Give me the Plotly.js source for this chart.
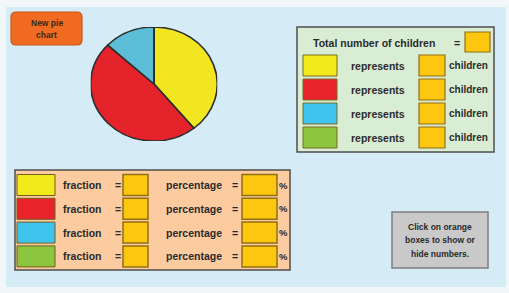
<!DOCTYPE html>
<html><head><meta charset="utf-8">
<script src="https://cdn.plot.ly/plotly-3.0.1.min.js"></script>
<style>
html,body{margin:0;padding:0;background:#f1f6f8;}
#wrap{position:relative;width:509px;height:293px;overflow:hidden;}
#main{position:absolute;left:0;top:0;width:509px;height:293px;}
#pie{position:absolute;left:96.5px;top:27px;width:114px;height:114px;transform:scaleX(1.11);transform-origin:center center;}
</style></head>
<body>
<div id="wrap"><div id="main"></div><div id="pie"></div></div>
<script>
// ---- data ----
const categories = ['Yellow', 'Red', 'Blue', 'Green'];
const counts = [9, 11, 3, 0];
const sliceColors = ['#f1e61f', '#e5232a', '#5cbdd6', '#8cc63f'];
const swatchColors = ['#f3ea1b', '#e8232b', '#3ec3ec', '#8cc63f'];
const buttonLabel = 'New pie chart';
const totalLabel = 'Total number of children';
const representsLabel = 'represents';
const childrenLabel = 'children';
const fractionLabel = 'fraction';
const percentageLabel = 'percentage';
const helpLines = ['Click on orange', 'boxes to show or', 'hide numbers.'];

// ---- styles ----
const FONT = 'Liberation Sans, Arial, sans-serif';
const TXT = '#2a2a2a';
const ORANGE = '#fdc70f';
const ORANGE_LINE = '#8f7014';
const PANEL_LINE = '#4d4d4d';

const shapes = [];
const ann = [];
function rect(x0, y0, x1, y1, fill, line, w) {
  shapes.push({type: 'rect', xref: 'x', yref: 'y', x0, y0, x1, y1, fillcolor: fill,
    line: {color: line || 'rgba(0,0,0,0)', width: line ? (w || 1.5) : 0}, layer: 'below'});
}
function text(t, x, y, size, color) {
  ann.push({text: t, x, y, xref: 'x', yref: 'y', showarrow: false,
    xanchor: 'center', yanchor: 'middle',
    font: {family: FONT, size: size, color: color || TXT, weight: 'bold'}});
}

// background
rect(6, 7, 506, 287, '#d5ebf5');

// New pie chart button (rounded)
(function () {
  const x0 = 11, x1 = 82, y0 = 12, y1 = 45, r = 5;
  shapes.push({type: 'path', xref: 'x', yref: 'y', fillcolor: '#f06b21',
    line: {color: '#c9561b', width: 1.2},
    path: `M ${x0 + r} ${y0} L ${x1 - r} ${y0} Q ${x1} ${y0} ${x1} ${y0 + r} L ${x1} ${y1 - r} Q ${x1} ${y1} ${x1 - r} ${y1} L ${x0 + r} ${y1} Q ${x0} ${y1} ${x0} ${y1 - r} L ${x0} ${y0 + r} Q ${x0} ${y0} ${x0 + r} ${y0} Z`});
  const words = buttonLabel.split(' ');
  text(words.slice(0, 2).join(' '), 46.5, 23, 8.5, '#3a2a1a');
  text(words.slice(2).join(' '), 46.5, 35, 8.5, '#3a2a1a');
})();

// right panel
rect(297, 27, 494, 152, '#d9edd4', PANEL_LINE, 1.5);
text(totalLabel, 374, 43, 10.5);
text('=', 457, 43, 10.5);
rect(465, 32, 490, 52, ORANGE, ORANGE_LINE, 1.2);
categories.forEach((c, i) => {
  const yt = 55 + 24 * i, yb = yt + 21, ym = (yt + yb) / 2;
  rect(303, yt, 337, yb, swatchColors[i], '#7a6a20', 1);
  text(representsLabel, 378, ym, 10.5);
  rect(419, yt, 445, yb, ORANGE, ORANGE_LINE, 1.2);
  text(childrenLabel, 468, ym, 10);
});

// bottom panel
rect(15, 170, 290, 270, '#fccb9f', PANEL_LINE, 1.5);
categories.forEach((c, i) => {
  const yt = 174.5 + 23.8 * i, yb = yt + 21, ym = (yt + yb) / 2;
  rect(17, yt, 55, yb, swatchColors[i], '#6f5f20', 1);
  text(fractionLabel, 82, ym, 10.5);
  text('=', 118, ym, 10.5);
  rect(123, yt, 148, yb, ORANGE, ORANGE_LINE, 1.5);
  text(percentageLabel, 194, ym, 10.5);
  text('=', 235, ym, 10.5);
  rect(242, yt, 277, yb, ORANGE, ORANGE_LINE, 1.5);
  text('%', 283, ym, 9.5);
});

// help box
rect(392, 212, 488, 268, '#c9c9c9', '#7d7d7d', 1.5);
helpLines.forEach((t, i) => text(t, 440, 226.5 + 13.5 * i, 8.5));

Plotly.newPlot('main', [], {
  width: 509, height: 293, margin: {l: 0, r: 0, t: 0, b: 0},
  paper_bgcolor: '#f1f6f8', plot_bgcolor: 'rgba(0,0,0,0)',
  xaxis: {range: [0, 509], visible: false, fixedrange: true},
  yaxis: {range: [293, 0], visible: false, fixedrange: true},
  shapes: shapes, annotations: ann, showlegend: false
}, {staticPlot: true, displayModeBar: false});

Plotly.newPlot('pie', [{
  type: 'pie', labels: categories, values: counts, sort: false,
  direction: 'clockwise', rotation: 0, textinfo: 'none', hoverinfo: 'none',
  marker: {colors: sliceColors, line: {color: '#2e2e2e', width: 1.5}}
}], {
  width: 114, height: 114, margin: {l: 0, r: 0, t: 0, b: 0},
  paper_bgcolor: 'rgba(0,0,0,0)', showlegend: false
}, {staticPlot: true, displayModeBar: false});
</script>
</body></html>
